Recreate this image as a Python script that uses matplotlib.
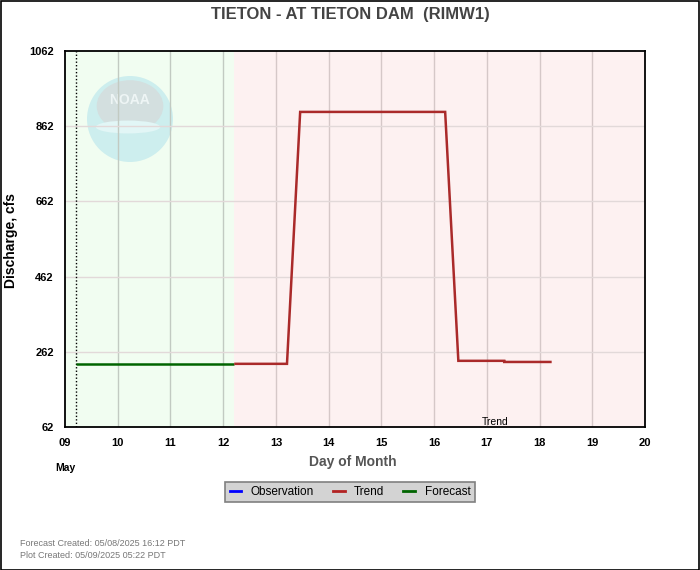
import matplotlib
matplotlib.use("Agg")
import matplotlib.pyplot as plt
from matplotlib.patches import Rectangle, Ellipse
from matplotlib.lines import Line2D

plt.rcParams['font.family'] = ['Liberation Sans', 'DejaVu Sans']

# ---- data ----
title = "TIETON - AT TIETON DAM  (RIMW1)"
forecast_x = [9.21, 12.21]
forecast_y = [230, 230]
trend_x = [12.21, 13.21, 13.46, 16.21, 16.46, 17.33, 17.33, 18.23]
trend_y = [230, 230, 900, 900, 238, 238, 235, 235]
now_x = 9.21
forecast_end_x = 12.21
yticks = [62, 262, 462, 662, 862, 1062]
xticks = [9, 10, 11, 12, 13, 14, 15, 16, 17, 18, 19, 20]
xticklabels = ["09", "10", "11", "12", "13", "14", "15", "16", "17", "18", "19", "20"]
legend_labels = ["Observation", "Trend", "Forecast"]
legend_colors = ["#0000ff", "#b22222", "#006400"]

W, H = 700, 570
fig = plt.figure(figsize=(7, 5.7), dpi=100)
fig.patch.set_facecolor("white")
# figure border
fig.add_artist(Rectangle((0.5 / W, 0.5 / H), 1 - 1.5 / W, 1 - 1.5 / H, transform=fig.transFigure,
                         fill=False, edgecolor="black", linewidth=1.2))

ax = fig.add_axes([65 / W, (H - 427) / H, 580 / W, (427 - 51) / H])
ax.set_xlim(9, 20)
ax.set_ylim(62, 1062)

# backgrounds
ax.axvspan(9, forecast_end_x, color="#f1fdf1", zorder=0, lw=0)
ax.axvspan(forecast_end_x, 20, color="#fdf1f1", zorder=0, lw=0)

# NOAA logo (faint)
cx_px, cy_px, r_px = 130, 119, 43
def px2data(x, y):
    return 9 + (x - 65) / 580 * 11, 1062 - (y - 51) / 376 * 1000
cx, cy = px2data(cx_px, cy_px)
sx = 11 / 580  # data per px in x
sy = 1000 / 376
ax.add_patch(Ellipse((cx, cy), 2 * r_px * sx, 2 * r_px * sy, facecolor="#cdeeee", edgecolor="none", zorder=0.5))
ax.add_patch(Ellipse((cx, cy + 13 * sy), 1.55 * r_px * sx, 1.2 * r_px * sy, facecolor="#d3dfdf", edgecolor="none", zorder=0.6))
ax.add_patch(Ellipse((cx - 2 * sx, cy - 8 * sy), 1.5 * r_px * sx, 0.3 * r_px * sy, facecolor="#e2f6f6", edgecolor="none", zorder=0.7))
ax.text(cx, cy + 19 * sy, "NOAA", color="#eef5f5", fontsize=10, fontweight="bold", ha="center", va="center", zorder=0.8)

# grid
for x in xticks[1:-1]:
    c = "#c2cac2" if x < forecast_end_x else "#d5c8c8"
    ax.axvline(x, color=c, lw=1, zorder=1)
for y in yticks[1:-1]:
    ax.axhline(y, color="#e2d9d9", lw=1, zorder=1)

# now line
ax.axvline(now_x, color="black", lw=1, ls=(0, (1, 1.5)), zorder=3)

ax.plot(forecast_x, forecast_y, color="#006400", lw=1.8, zorder=4, solid_capstyle="butt")
ax.plot(trend_x, trend_y, color="#aa2a2a", lw=1.8, zorder=4, solid_capstyle="butt", solid_joinstyle="miter")

ax.text(17.15, 62, "Trend", fontsize=7.5, ha="center", va="bottom", zorder=5)

ax.set_xticks(xticks)
ax.set_xticklabels(xticklabels, fontsize=8, fontweight="bold")
ax.set_yticks(yticks)
ax.set_yticklabels([str(v) for v in yticks], fontsize=8, fontweight="bold")
ax.tick_params(length=0, pad=8)
for s in ax.spines.values():
    s.set_color("black")
    s.set_linewidth(1.3)

fig.text(350 / W, 1 - 14 / H, title, ha="center", va="center", fontsize=12, fontweight="bold", color="#444444")
fig.text(11 / W, 1 - 240 / H, "Discharge, cfs", rotation=90, ha="center", va="center", fontsize=10, fontweight="bold")
fig.text(353 / W, 1 - 462 / H, "Day of Month", ha="center", va="center", fontsize=10, fontweight="bold", color="#555555")
fig.text(65 / W, 1 - 468 / H, "May", ha="center", va="center", fontsize=7.5, fontweight="bold")

# legend
handles = [Line2D([], [], color=c, lw=2) for c in legend_colors]
leg = fig.legend(handles, legend_labels, loc="center", bbox_to_anchor=(350 / W, 1 - 492 / H), ncol=3,
                 fontsize=8.5, frameon=True, fancybox=False, handlelength=1.0, handletextpad=0.8,
                 columnspacing=1.6, borderpad=0.35)
leg.get_frame().set_facecolor("#d3d3d3")
leg.get_frame().set_edgecolor("#808080")
leg.get_frame().set_linewidth(1.2)
leg.get_frame().set_alpha(1)

fig.text(20 / W, 1 - 544 / H, "Forecast Created: 05/08/2025 16:12 PDT", fontsize=6.5, color="#777777", va="center")
fig.text(20 / W, 1 - 556 / H, "Plot Created: 05/09/2025 05:22 PDT", fontsize=6.5, color="#777777", va="center")

fig.savefig("out.png", dpi=100)
